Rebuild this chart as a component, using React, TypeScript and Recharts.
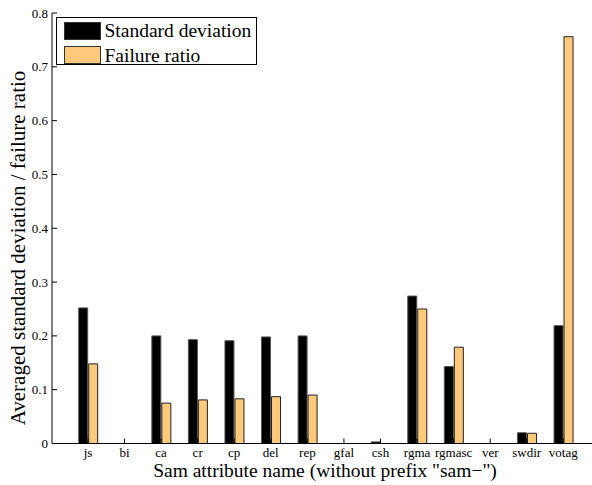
import { BarChart, Bar, XAxis, YAxis, Legend } from 'recharts'

const categories = ['js', 'bi', 'ca', 'cr', 'cp', 'del', 'rep', 'gfal', 'csh', 'rgma', 'rgmasc', 'ver', 'swdir', 'votag']
const stdDeviation = [0.252, 0, 0.2, 0.193, 0.191, 0.198, 0.2, 0, 0.003, 0.274, 0.143, 0, 0.02, 0.219]
const failureRatio = [0.148, 0, 0.075, 0.081, 0.083, 0.087, 0.09, 0, 0, 0.25, 0.179, 0, 0.019, 0.756]
const seriesNames = ['Standard deviation', 'Failure ratio']
const yTicks = [0, 0.1, 0.2, 0.3, 0.4, 0.5, 0.6, 0.7, 0.8]

const data = categories.map((name, i) => ({ name, std: stdDeviation[i], fail: failureRatio[i] }))

const FONT = "'Liberation Serif', 'DejaVu Serif', 'Noto Serif', serif"
const PLOT_TOP = 13
const PLOT_BOTTOM = 443.5
const TICK_LEN = 5

const BottomTick = (props: any) => {
  const { x, payload } = props
  return (
    <g>
      <line x1={x} x2={x} y1={PLOT_BOTTOM} y2={PLOT_BOTTOM - TICK_LEN} stroke="#000" />
      <text x={x} y={PLOT_BOTTOM + 13.5} textAnchor="middle" style={{ fontFamily: FONT, fontSize: 13 }} fill="#000">
        {payload.value}
      </text>
    </g>
  )
}

const TopTick = (props: any) => {
  const { x } = props
  return <line x1={x} x2={x} y1={PLOT_TOP} y2={PLOT_TOP + TICK_LEN} stroke="#000" />
}

const LeftTick = (props: any) => {
  const { x, y, payload } = props
  return (
    <g>
      <line x1={x + 4} x2={x + 4 + TICK_LEN} y1={y} y2={y} stroke="#000" />
      <text x={x} y={y + 4.5} textAnchor="end" style={{ fontFamily: FONT, fontSize: 13 }} fill="#000">
        {payload.value === 0 ? '0' : String(payload.value)}
      </text>
    </g>
  )
}

const renderYLabel = () => (
  <text
    x={25}
    y={248}
    transform="rotate(-90 25 248)"
    textAnchor="middle"
    style={{ fontFamily: FONT, fontSize: 21 }}
    fill="#000"
  >
    Averaged standard deviation / failure ratio
  </text>
)

const renderXLabel = () => (
  <text x={325} y={477} textAnchor="middle" style={{ fontFamily: FONT, fontSize: 19.5 }} fill="#000">
    Sam attribute name (without prefix "sam−")
  </text>
)

const renderLegend = (props: any) => {
  const payload = props.payload || []
  const items = seriesNames.map((n) => payload.find((p: any) => p.value === n)).filter(Boolean)
  return (
    <div
      style={{
        width: 199,
        height: 46,
        border: '1px solid #000',
        background: '#fff',
        position: 'relative',
        fontFamily: FONT,
        fontSize: 19.5,
        color: '#000',
      }}
    >
      {items.map((item: any, i: number) => (
        <div key={item.value}>
          <div
            style={{
              position: 'absolute',
              left: 7,
              top: 3.5 + i * 24.5,
              width: 35,
              height: 16,
              background: item.color,
              border: '1px solid #333',
            }}
          />
          <span
            style={{
              position: 'absolute',
              left: 47.5,
              top: 2.7 + i * 25.4,
              lineHeight: '20px',
              whiteSpace: 'nowrap',
            }}
          >
            {item.value}
          </span>
        </div>
      ))}
    </div>
  )
}

export default function App() {
  return (
    <div style={{ position: 'fixed', left: 0, top: 0, background: '#fff' }}>
      <BarChart
        width={592}
        height={485}
        data={data}
        margin={{ top: PLOT_TOP, right: 0, left: 0, bottom: 0 }}
        barSize={9}
        barGap={1}
      >
        <XAxis
          dataKey="name"
          height={485 - PLOT_BOTTOM}
          padding={{ left: 17.7, right: 10.4 }}
          tickLine={false}
          tickSize={0}
          tickMargin={0}
          interval={0}
          axisLine={{ stroke: '#000' }}
          tick={<BottomTick />}
          label={{ content: renderXLabel }}
        />
        <XAxis
          xAxisId="top"
          orientation="top"
          dataKey="name"
          height={0}
          padding={{ left: 17.7, right: 10.4 }}
          tickLine={false}
          tickSize={0}
          tickMargin={0}
          interval={0}
          axisLine={{ stroke: '#000' }}
          tick={<TopTick />}
        />
        <YAxis
          width={52}
          domain={[0, 0.8]}
          ticks={yTicks}
          tickLine={false}
          tickSize={0}
          tickMargin={4}
          interval={0}
          axisLine={{ stroke: '#000' }}
          tick={<LeftTick />}
          label={{ content: renderYLabel }}
        />
        <Legend
          layout="vertical"
          align="center"
          verticalAlign="middle"
          wrapperStyle={{ left: 56, top: 17, width: 201, height: 48 }}
          content={renderLegend}
        />
        <Bar dataKey="std" name={seriesNames[0]} fill="#000" stroke="#555" strokeWidth={1} isAnimationActive={false} />
        <Bar dataKey="fail" name={seriesNames[1]} fill="#FFC97C" stroke="#222" strokeWidth={1} isAnimationActive={false} />
      </BarChart>
    </div>
  )
}
